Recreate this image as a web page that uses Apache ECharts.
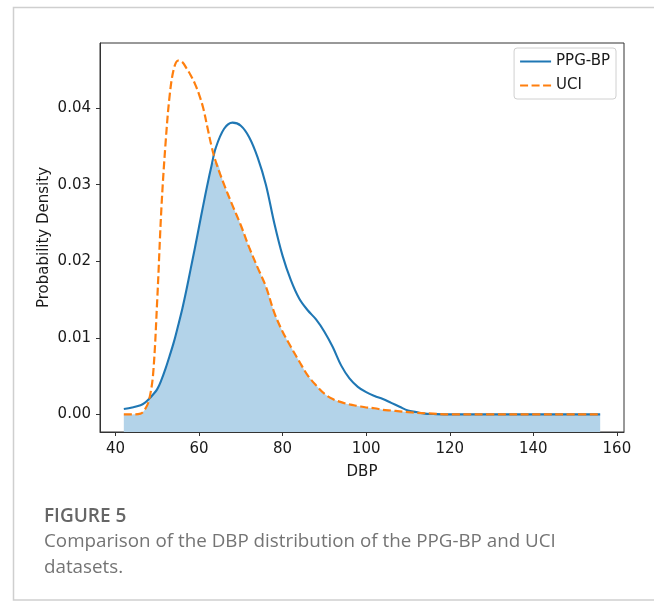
<!DOCTYPE html>
<html>
<head>
<meta charset="utf-8">
<script src="https://cdn.jsdelivr.net/npm/echarts@6/dist/echarts.min.js"></script>
<style>
html,body{margin:0;padding:0;background:#fff;}
#chart{width:654px;height:601px;}
</style>
</head>
<body>
<div id="chart"></div>
<script>
// DBP grid (mmHg)
var dbp = [42,44,46,47,48,49,50,51,52,53,54,55,56,57,58,59,60,61,62,63,64,66,68,70,72,74,76,78,80,82,84,86,88,90,92,94,96,98,100,102,104,106,108,110,112,114,116,120,130,140,150,156];
// PPG-BP density
var ppgBP = [0.0007,0.0009,0.0012,0.0015,0.0020,0.0026,0.0033,0.0045,0.0060,0.0077,0.0095,0.0116,0.0138,0.0163,0.0190,0.0217,0.0245,0.0273,0.0300,0.0325,0.0348,0.0373,0.0381,0.0377,0.0362,0.0336,0.0300,0.0250,0.0207,0.0175,0.0151,0.0136,0.0124,0.0108,0.0088,0.0064,0.0047,0.0036,0.0029,0.0024,0.0020,0.0015,0.0010,0.0005,0.0003,0.0001,0.00005,0,0,0,0,0];
// UCI density
var uci = [0,0,0.0001,0.0006,0.0018,0.0052,0.0150,0.0270,0.0355,0.0418,0.0452,0.0462,0.0460,0.0452,0.0443,0.0432,0.0418,0.0400,0.0375,0.0350,0.0330,0.0300,0.0273,0.0247,0.0218,0.0192,0.0167,0.0133,0.0108,0.0088,0.0069,0.0051,0.0038,0.0027,0.0020,0.0016,0.0013,0.0011,0.0009,0.0008,0.0006,0.0005,0.0004,0.0003,0.0002,0.00015,0.0001,0,0,0,0,0];
var xTicks = [40,60,80,100,120,140,160];
var yTicks = [0,0.01,0.02,0.03,0.04];
var seriesNames = ['PPG-BP','UCI'];

function pairs(ys){ return dbp.map(function(x,i){ return [x, ys[i]]; }); }
var overlap = dbp.map(function(x,i){ return [x, Math.min(ppgBP[i], uci[i])]; });

var font = 'DejaVu Sans';
var chart = echarts.init(document.getElementById('chart'), null, {renderer:'canvas'});
chart.setOption({
  animation:false,
  backgroundColor:'#fff',
  grid:{left:100,right:30,top:43,bottom:169,show:true,borderColor:'#333',borderWidth:1,backgroundColor:'transparent'},
  xAxis:{
    type:'value', min:36.3, max:161.7,
    name:'DBP', nameLocation:'middle', nameGap:33, nameMoveOverlap:false,
    nameTextStyle:{fontFamily:font,fontSize:15,color:'#1a1a1a'},
    axisLine:{show:true,onZero:false,lineStyle:{color:'#333',width:1}},
    axisTick:{show:true,length:4,customValues:xTicks,lineStyle:{color:'#333'}},
    axisLabel:{customValues:xTicks,fontFamily:font,fontSize:15,color:'#1a1a1a',margin:10},
    splitLine:{show:false}
  },
  yAxis:{
    type:'value', min:-0.0023, max:0.0485,
    name:'Probability Density', nameLocation:'middle', nameGap:48, nameMoveOverlap:false,
    nameTextStyle:{fontFamily:font,fontSize:15,color:'#1a1a1a'},
    axisLine:{show:true,onZero:false,lineStyle:{color:'#333',width:1}},
    axisTick:{show:true,length:4,customValues:yTicks,lineStyle:{color:'#333'}},
    axisLabel:{customValues:yTicks,fontFamily:font,fontSize:15,color:'#1a1a1a',margin:9,
      formatter:function(v){return v.toFixed(2);}},
    splitLine:{show:false}
  },
  legend:{
    data:seriesNames, orient:'vertical', right:38, top:48,
    backgroundColor:'#fff', borderColor:'#d0d0d0', borderWidth:1, borderRadius:3,
    padding:[6,6,6,5], itemWidth:31, itemHeight:14, itemGap:9,
    itemStyle:{opacity:0, borderWidth:0},
    textStyle:{fontFamily:font,fontSize:15,color:'#1a1a1a'}
  },
  series:[
    {name:'overlap', type:'line', data:overlap, symbol:'none', smooth:0.35, lineStyle:{width:0},
     areaStyle:{color:'#b3d3e9',opacity:1,origin:'start'}, silent:true, z:1},
    {name:'PPG-BP', type:'line', data:pairs(ppgBP), symbol:'none', smooth:0.35,
     lineStyle:{color:'#1f77b4',width:2.1}, itemStyle:{color:'#1f77b4'}, z:2},
    {name:'UCI', type:'line', data:pairs(uci), symbol:'none', smooth:0.35,
     lineStyle:{color:'#ff7f0e',width:2.2,type:[8,3.5]}, itemStyle:{color:'#ff7f0e'}, z:3}
  ],
  graphic:[
    {type:'polyline', shape:{points:[[700,7.5],[13.5,7.5],[13.5,600],[700,600]]}, style:{stroke:'#cfcfcf',lineWidth:1.5,fill:null}, silent:true},
    {type:'text', left:44, top:507, style:{text:'FIGURE 5', font:'600 19px "Open Sans"', fill:'#666'}},
    {type:'text', left:44, top:532, style:{text:'Comparison of the DBP distribution of the PPG-BP and UCI', font:'18.8px "Open Sans"', fill:'#747474'}},
    {type:'text', left:44, top:558, style:{text:'datasets.', font:'18.8px "Open Sans"', fill:'#747474'}}
  ]
});
</script>
</body>
</html>
